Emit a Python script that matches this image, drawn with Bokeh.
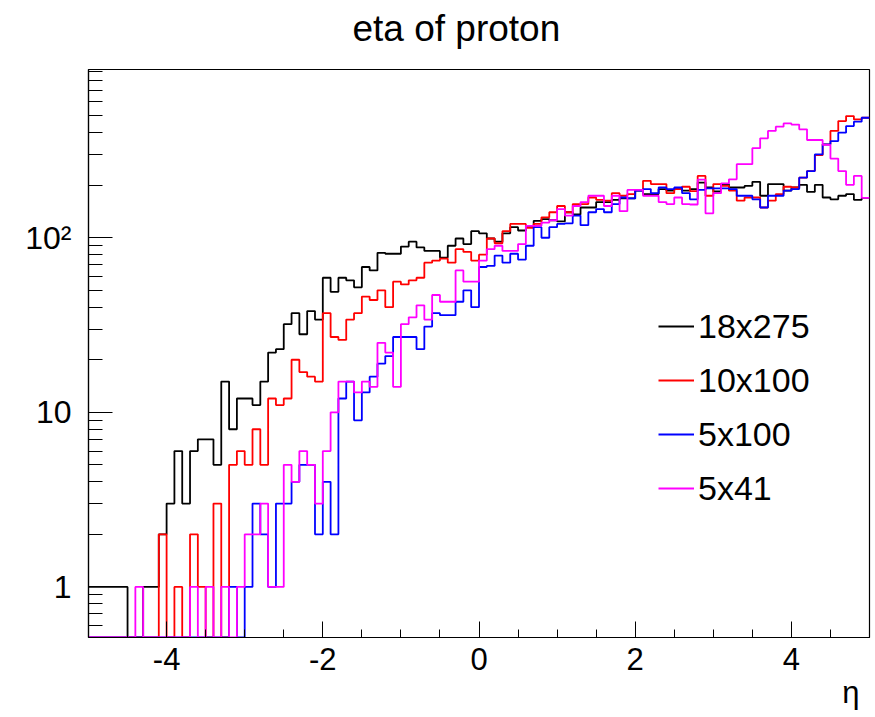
import numpy as np
from bokeh.plotting import figure
from bokeh.models import Range1d, FixedTicker, Legend, LegendItem, Title
from bokeh.embed import file_html
from bokeh.resources import INLINE

# ---- data (100 bins of width 0.1 from -5 to 5) ----
x_min, x_max, n_bins = -5.0, 5.0, 100

h_18x275 = [1, 1, 1, 1, 1, 0, 0, 1, 1, 2,
            3, 6, 3, 6, 7, 7, 5, 15, 8, 12,
            12, 11, 15, 22, 23, 32, 37, 28, 38, 34,
            59, 49, 59, 57, 52, 68, 65, 82, 81, 81,
            89, 95, 88, 84, 84, 77, 90, 99, 92, 109,
            106, 99, 95, 106, 115, 110, 115, 125, 128, 126,
            124, 140, 136, 149, 149, 160, 160, 165, 168, 168,
            186, 178, 178, 190, 186, 190, 186, 190, 207, 194,
            184, 203, 194, 194, 198, 209, 174, 203, 203, 186,
            194, 201, 183, 201, 170, 166, 174, 178, 165, 169]

h_10x100 = [0, 0, 0, 0, 0, 0, 0, 0, 0, 2,
            0, 1, 0, 2, 1, 0, 3, 0, 5, 6,
            5, 8, 5, 12, 11, 12, 20, 17, 16, 15,
            37, 27, 26, 34, 37, 46, 44, 50, 40, 56,
            54, 57, 59, 72, 74, 76, 72, 86, 83, 74,
            80, 99, 93, 109, 120, 120, 114, 120, 131, 140,
            152, 140, 156, 156, 170, 165, 163, 180, 174, 178,
            188, 212, 203, 203, 180, 190, 196, 185, 226, 174,
            203, 198, 186, 163, 170, 170, 149, 163, 178, 196,
            194, 221, 241, 297, 343, 409, 466, 498, 476, 487]

h_5x100 = [0, 0, 0, 0, 0, 0, 0, 0, 0, 0,
           0, 0, 0, 0, 0, 0, 0, 0, 1, 0,
           1, 3, 2, 1, 3, 3, 4, 5, 5, 2,
           4, 2, 12, 15, 9, 13, 16, 19, 21, 27,
           27, 27, 23, 31, 37, 36, 36, 43, 50, 40,
           68, 69, 79, 72, 81, 75, 90, 115, 100, 115,
           120, 121, 134, 118, 140, 146, 140, 156, 170, 168,
           186, 190, 180, 194, 190, 194, 180, 166, 188, 192,
           192, 192, 190, 174, 174, 166, 149, 174, 174, 186,
           190, 221, 241, 300, 343, 358, 400, 436, 462, 487]

h_5x41 = [0, 0, 0, 0, 0, 0, 1, 0, 0, 0,
          0, 0, 0, 1, 0, 1, 0, 1, 0, 1,
          2, 2, 3, 1, 1, 5, 4, 6, 5, 3,
          6, 10, 15, 15, 13, 15, 14, 25, 22, 14,
          32, 35, 41, 34, 47, 43, 43, 65, 56, 56,
          74, 86, 90, 84, 84, 92, 117, 117, 122, 126,
          146, 134, 152, 160, 174, 174, 152, 174, 142, 188,
          188, 174, 174, 160, 156, 170, 156, 155, 215, 138,
          180, 205, 216, 264, 264, 326, 371, 409, 433, 452,
          445, 418, 363, 363, 340, 284, 241, 201, 226, 169]

series_names = ["18x275", "10x100", "5x100", "5x41"]
series_colors = ["#000000", "#ff0000", "#0000ff", "#ff00ff"]
series_values = [h_18x275, h_10x100, h_5x100, h_5x41]

x_major_ticks = [-4, -2, 0, 2, 4]
x_major_labels = {-4: "-4", -2: "-2", 0: "0", 2: "2", 4: "4"}
x_minor_ticks = [-4.5, -3.5, -3, -2.5, -1.5, -1, -0.5, 0.5, 1, 1.5, 2.5, 3, 3.5, 4.5]
y_major_ticks = [1, 10, 100]
y_major_labels = {1: "1", 10: "10", 100: "10\u00b2"}
y_minor_ticks = [0.6, 0.7, 0.8, 0.9] + [k * 1.0 for k in range(2, 10)] + \
                [k * 10.0 for k in range(2, 10)] + [k * 100.0 for k in range(2, 10)]
y_low, y_high = 0.513, 920.0

FONT = "Liberation Sans"

# ---- figure ----
p = figure(width=875, height=717, output_backend="svg", toolbar_location=None,
           y_axis_type="log", x_range=Range1d(x_min, x_max),
           y_range=Range1d(y_low, y_high),
           min_border_left=88, min_border_right=6, min_border_top=69,
           min_border_bottom=80)
p.background_fill_color = "white"
p.border_fill_color = "white"
p.outline_line_color = "black"
p.outline_line_width = 1.2
p.xgrid.visible = False
p.ygrid.visible = False

# real title, with an empty spacer title between it and the frame
p.title.text = "eta of proton"
p.title.align = "left"
p.title.offset = 264
p.title.text_font = FONT
p.title.text_font_style = "normal"
p.title.text_font_size = "37px"
p.title.text_color = "black"
p.title.standoff = 0
p.add_layout(Title(text=" ", text_font_size="2px", standoff=17), "above")

edges = np.linspace(x_min, x_max, n_bins + 1)
renderers = []
for name, col, vals in zip(series_names, series_colors, series_values):
    v = np.array(vals, dtype=float)
    v = np.where(v <= 0, y_low, v)
    ys = np.concatenate([v, v[-1:]])
    r = p.step(edges, ys, mode="after", line_color=col, line_width=1.8)
    renderers.append(r)

# x axis
xa = p.xaxis[0]
xa.ticker = FixedTicker(ticks=x_major_ticks, minor_ticks=x_minor_ticks)
xa.major_label_overrides = x_major_labels
xa.major_tick_in = 16
xa.major_tick_out = 0
xa.minor_tick_in = 8
xa.minor_tick_out = 0
xa.major_label_text_font = FONT
xa.major_label_text_font_size = "31px"
xa.major_label_text_color = "black"
xa.major_label_standoff = 10
xa.axis_line_width = 1.2

# y axis
ya = p.yaxis[0]
ya.ticker = FixedTicker(ticks=y_major_ticks, minor_ticks=y_minor_ticks)
ya.major_label_overrides = y_major_labels
ya.major_tick_in = 24
ya.major_tick_out = 0
ya.minor_tick_in = 14
ya.minor_tick_out = 0
ya.major_label_text_font = FONT
ya.major_label_text_font_size = "32px"
ya.major_label_text_color = "black"
ya.major_label_standoff = 17
ya.axis_line_width = 1.2

# axis title eta at bottom right
p.add_layout(Title(text="\u03b7", align="right", offset=10, text_font=FONT,
                   text_font_size="31px", text_font_style="normal",
                   text_color="black", standoff=0), "below")

legend = Legend(items=[LegendItem(label=n, renderers=[r]) for n, r in zip(series_names, renderers)],
                location=(570, 122), padding=0, margin=0, spacing=0,
                glyph_width=36, glyph_height=54, label_height=54, label_standoff=4,
                label_text_font=FONT, label_text_font_size="34px", label_text_color="black",
                border_line_alpha=0, background_fill_alpha=0)
p.add_layout(legend)

open("out.html", "w").write(file_html(p, INLINE))
